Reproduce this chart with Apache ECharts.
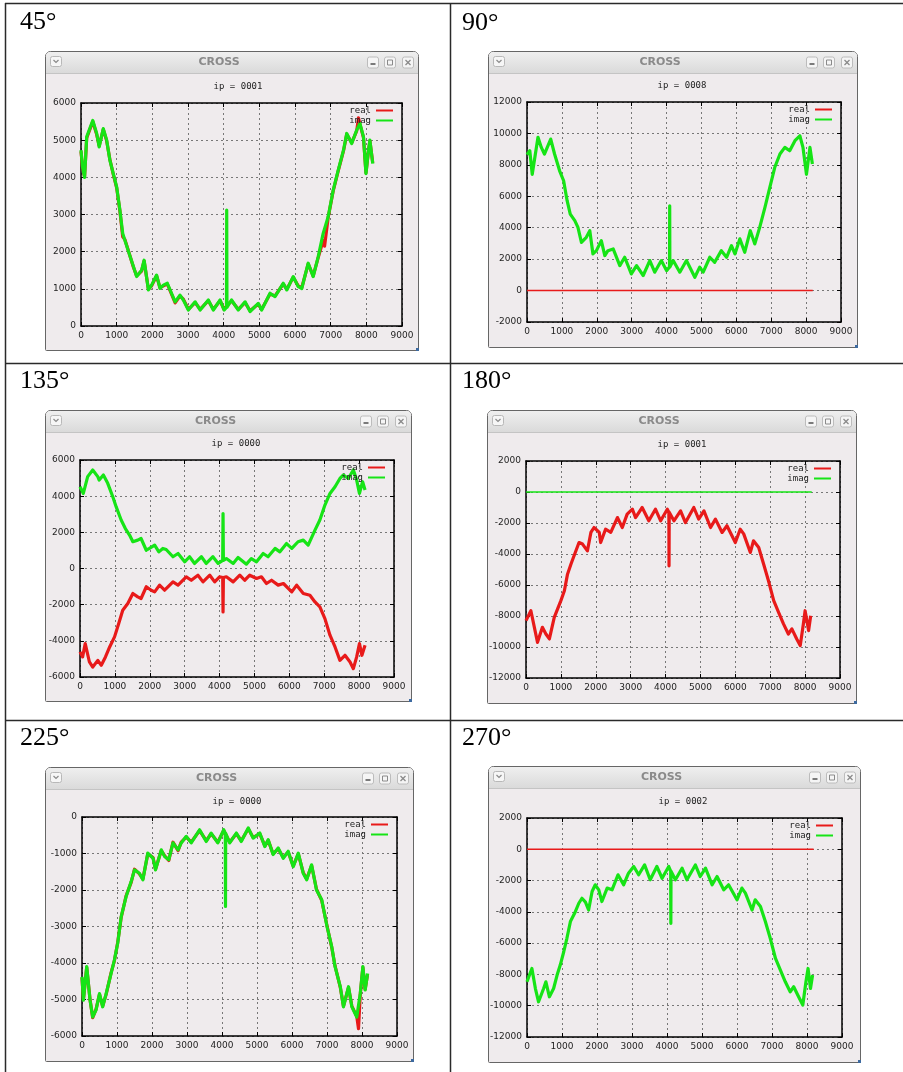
<!DOCTYPE html>
<html>
<head>
<meta charset="utf-8">
<script src="https://cdn.jsdelivr.net/npm/echarts/dist/echarts.min.js"></script>
<style>
  html, body { margin: 0; padding: 0; background: #fff; }
  #chart { width: 903px; height: 1072px; }
</style>
</head>
<body>
<div id="chart"></div>
<script>
// ---- labels and axis ranges ----
const angleLabels = ['45°', '90°', '135°', '180°', '225°', '270°'];
const windowCaption = 'CROSS';
const plotTitles = ['ip = 0001', 'ip = 0008', 'ip = 0000', 'ip = 0001', 'ip = 0000', 'ip = 0002'];
const seriesNames = ['real', 'imag'];
const xRange = { min: 0, max: 9000, interval: 1000 };
const yRanges = [
  { min: 0, max: 6000, interval: 1000 },
  { min: -2000, max: 12000, interval: 2000 },
  { min: -6000, max: 6000, interval: 2000 },
  { min: -12000, max: 2000, interval: 2000 },
  { min: -6000, max: 0, interval: 1000 },
  { min: -12000, max: 2000, interval: 2000 }
];

// ---- cross spectra, [sample, value] ----
const real45 = [[0,4700],[40,4280],[100,4020],[160,5060],[330,5500],[440,5150],[510,4850],[625,5290],[720,4980],[810,4480],[905,4080],[1000,3720],[1090,3100],[1170,2400],[1230,2330],[1350,1960],[1470,1580],[1560,1350],[1700,1480],[1770,1750],[1890,990],[1980,1080],[2120,1350],[2215,1030],[2310,1080],[2420,1130],[2640,620],[2775,810],[2870,720],[3010,450],[3200,630],[3340,450],[3570,680],[3710,450],[3900,680],[4010,450],[4220,680],[4410,450],[4600,630],[4740,410],[4970,590],[5065,450],[5300,860],[5440,810],[5670,1130],[5770,990],[5950,1310],[6090,1080],[6190,1030],[6370,1670],[6510,1350],[6650,1840],[6790,2300],[6830,2150],[6930,2920],[7070,3630],[7210,4170],[7360,4710],[7450,5160],[7590,4930],[7730,5250],[7780,5600],[7820,5430],[7920,5070],[7990,4120],[8060,4710],[8100,4980],[8180,4390]];
const imag45 = [[0,4730],[40,4300],[100,4000],[160,5090],[330,5530],[440,5180],[510,4820],[625,5310],[720,5000],[810,4460],[905,4100],[1000,3740],[1090,3120],[1170,2490],[1230,2310],[1350,1950],[1470,1600],[1560,1330],[1700,1500],[1770,1770],[1890,970],[1980,1100],[2120,1370],[2215,1010],[2310,1100],[2420,1150],[2640,650],[2775,830],[2870,700],[3010,430],[3200,650],[3340,430],[3570,700],[3710,430],[3900,700],[4010,430],[4080,500],[4085,3120],[4092,500],[4220,700],[4410,430],[4600,650],[4740,390],[4970,610],[5065,430],[5300,880],[5440,790],[5670,1150],[5770,970],[5950,1330],[6090,1060],[6190,1010],[6370,1690],[6510,1330],[6650,1860],[6790,2490],[6930,2940],[7070,3650],[7210,4190],[7360,4730],[7450,5180],[7590,4910],[7730,5270],[7820,5450],[7920,5090],[7990,4100],[8060,4730],[8100,5000],[8180,4370]];

const real90 = [[0,0],[8190,0]];
const imag90 = [[0,8650],[80,8900],[150,7400],[315,9750],[410,9110],[500,8690],[680,9640],[790,8690],[935,7620],[1050,6990],[1150,5720],[1240,4870],[1370,4450],[1460,4020],[1560,3070],[1700,3390],[1800,3810],[1890,2330],[1990,2540],[2130,3180],[2230,2230],[2320,2540],[2470,2650],[2660,1590],[2800,2120],[2990,1060],[3140,1590],[3330,960],[3520,1910],[3660,1170],[3850,1910],[4000,1270],[4085,1500],[4090,5390],[4095,1500],[4190,1910],[4380,1170],[4570,1910],[4810,850],[4950,1490],[5050,1170],[5240,2120],[5380,1800],[5570,2540],[5720,2120],[5860,2860],[5960,2330],[6100,3290],[6240,2440],[6400,3810],[6530,2970],[6670,4020],[6820,5290],[6960,6560],[7100,7830],[7250,8690],[7390,9110],[7530,8900],[7680,9540],[7820,9850],[7910,9110],[8010,7400],[8110,9110],[8180,8050]];

const real135 = [[0,-4610],[75,-4890],[150,-4150],[270,-5170],[365,-5450],[510,-5080],[610,-5350],[730,-4890],[850,-4340],[990,-3780],[1110,-3040],[1225,-2310],[1370,-1940],[1515,-1380],[1655,-1570],[1750,-1660],[1900,-1010],[2040,-1200],[2140,-1290],[2280,-920],[2425,-1200],[2665,-740],[2810,-920],[3045,-460],[3190,-650],[3380,-370],[3525,-740],[3720,-370],[3860,-740],[4000,-460],[4090,-500],[4100,-2400],[4110,-500],[4195,-460],[4390,-740],[4580,-370],[4720,-650],[4865,-370],[5060,-550],[5200,-460],[5345,-830],[5490,-650],[5680,-920],[5830,-830],[6070,-1290],[6210,-920],[6400,-1380],[6590,-1480],[6735,-1850],[6875,-2120],[7020,-2770],[7165,-3690],[7310,-4340],[7450,-5080],[7595,-4800],[7740,-5170],[7835,-5540],[7930,-4890],[8010,-4150],[8080,-4800],[8170,-4240]];
const imag135 = [[0,4520],[95,4150],[220,5080],[365,5450],[510,5080],[550,4890],[670,5170],[795,4710],[940,3970],[1035,3420],[1180,2680],[1300,2210],[1420,1850],[1515,1480],[1655,1570],[1750,1660],[1900,1010],[1990,1110],[2140,1290],[2260,920],[2375,1110],[2470,1050],[2665,650],[2810,830],[3000,370],[3140,650],[3285,280],[3480,650],[3620,280],[3810,650],[3960,280],[4090,450],[4100,3040],[4110,450],[4195,550],[4390,280],[4530,610],[4770,240],[4910,550],[5060,370],[5250,830],[5390,650],[5590,1110],[5730,920],[5920,1380],[6070,1110],[6250,1480],[6400,1570],[6540,1290],[6735,2120],[6875,2680],[7020,3510],[7165,4150],[7310,4520],[7450,4980],[7550,5170],[7690,4980],[7835,5450],[7930,4890],[8010,4150],[8100,4800],[8170,4340]];

const real180 = [[0,-8300],[140,-7660],[330,-9700],[470,-8730],[570,-9160],[670,-9480],[810,-8090],[1000,-7010],[1100,-6370],[1190,-5300],[1290,-4650],[1380,-4100],[1520,-3260],[1620,-3360],[1760,-3800],[1860,-2610],[1950,-2290],[2100,-2610],[2140,-3260],[2280,-2400],[2430,-2600],[2620,-1650],[2760,-2290],[2900,-1430],[3050,-1110],[3140,-1650],[3330,-1000],[3520,-1860],[3710,-1110],[3860,-1860],[4050,-1110],[4095,-1300],[4100,-4760],[4105,-1300],[4240,-1860],[4430,-1220],[4570,-1970],[4810,-1000],[4950,-1750],[5100,-1220],[5290,-2290],[5430,-1750],[5620,-2610],[5760,-2180],[6000,-3260],[6140,-2400],[6240,-2700],[6430,-3900],[6520,-3150],[6670,-3580],[6810,-4650],[6950,-5730],[7100,-7010],[7240,-7760],[7380,-8510],[7520,-9160],[7620,-8830],[7760,-9480],[7860,-9910],[7950,-8510],[8000,-7660],[8100,-8940],[8160,-7980]];
const imag180 = [[0,0],[8190,0]];

const real225 = [[0,-4400],[40,-5000],[135,-4120],[230,-5000],[305,-5500],[400,-5270],[500,-4860],[590,-5180],[690,-4860],[830,-4270],[925,-3940],[1020,-3440],[1120,-2750],[1260,-2160],[1405,-1790],[1500,-1430],[1640,-1560],[1740,-1700],[1880,-1010],[2030,-1110],[2100,-1430],[2265,-920],[2360,-1060],[2480,-1190],[2600,-690],[2745,-920],[2835,-690],[2980,-550],[3120,-690],[3360,-370],[3550,-650],[3690,-460],[3880,-690],[4050,-370],[4220,-690],[4410,-460],[4550,-650],[4750,-320],[4890,-560],[5080,-460],[5225,-790],[5320,-640],[5460,-1010],[5605,-870],[5750,-1110],[5890,-960],[6035,-1340],[6180,-1010],[6320,-1520],[6420,-1700],[6560,-1330],[6700,-1980],[6850,-2290],[7000,-2980],[7135,-3570],[7230,-4080],[7380,-4670],[7470,-5180],[7615,-4670],[7710,-5180],[7850,-5460],[7900,-5800],[7950,-4860],[8025,-4120],[8090,-4720],[8160,-4310]];
const imag225 = [[0,-4380],[40,-5020],[135,-4100],[230,-5020],[305,-5480],[400,-5290],[500,-4840],[590,-5200],[690,-4840],[830,-4290],[925,-3920],[1020,-3460],[1120,-2730],[1260,-2180],[1405,-1770],[1500,-1450],[1640,-1540],[1740,-1720],[1880,-990],[2030,-1130],[2100,-1450],[2265,-900],[2360,-1080],[2480,-1170],[2600,-710],[2745,-900],[2835,-710],[2980,-530],[3120,-710],[3360,-350],[3550,-670],[3690,-440],[3880,-710],[4050,-350],[4095,-450],[4100,-2450],[4105,-450],[4220,-710],[4410,-440],[4550,-670],[4750,-300],[4890,-580],[5080,-440],[5225,-810],[5320,-620],[5460,-1030],[5605,-850],[5750,-1130],[5890,-940],[6035,-1360],[6180,-990],[6320,-1540],[6420,-1720],[6560,-1310],[6700,-2000],[6850,-2270],[7000,-3000],[7135,-3550],[7230,-4100],[7380,-4650],[7470,-5200],[7615,-4650],[7710,-5200],[7850,-5480],[7950,-4840],[8025,-4100],[8090,-4740],[8160,-4290]];

const real270 = [[0,0],[8190,0]];
const imag270 = [[0,-8470],[70,-8040],[140,-7620],[240,-8900],[330,-9750],[475,-8900],[540,-8470],[640,-9430],[760,-8900],[860,-8040],[950,-7400],[1050,-6550],[1140,-5690],[1240,-4620],[1360,-4090],[1480,-3450],[1570,-3130],[1670,-3380],[1760,-3880],[1860,-2700],[1950,-2270],[2050,-2590],[2140,-3340],[2290,-2480],[2430,-2590],[2600,-1630],[2760,-2270],[2900,-1530],[3050,-1100],[3190,-1630],[3360,-1000],[3520,-1950],[3710,-1100],[3860,-1850],[4050,-1100],[4105,-1400],[4110,-4730],[4115,-1400],[4240,-1950],[4430,-1210],[4570,-1950],[4810,-1000],[4950,-1740],[5100,-1210],[5290,-2270],[5430,-1740],[5620,-2590],[5760,-2270],[6000,-3230],[6140,-2480],[6240,-2800],[6430,-3880],[6520,-3230],[6670,-3660],[6810,-4620],[6950,-5690],[7100,-6980],[7240,-7720],[7380,-8470],[7520,-9110],[7620,-8790],[7760,-9430],[7880,-9960],[7970,-8470],[8030,-7620],[8100,-8900],[8160,-8040]];

const panelData = [
  { real: real45,  imag: imag45 },
  { real: real90,  imag: imag90 },
  { real: real135, imag: imag135 },
  { real: real180, imag: imag180 },
  { real: real225, imag: imag225 },
  { real: real270, imag: imag270 }
];

// ---- page layout (pixels) ----
const W = 903, H = 1072;
const frames = [
  { label: [20, 22.5],  win: [45, 51, 374, 300],  plot: [81, 103, 321, 223],  title: [238, 87] },
  { label: [462, 23.5], win: [488, 51, 370, 297], plot: [527, 102, 314, 220], title: [682, 86] },
  { label: [20, 381],   win: [45, 410, 367, 292], plot: [80, 460, 314, 217],  title: [236, 444] },
  { label: [462, 381],  win: [487, 410, 370, 294], plot: [526, 461, 314, 217], title: [682, 445] },
  { label: [20, 738],   win: [45, 767, 369, 295], plot: [82, 817, 315, 219],  title: [237, 802] },
  { label: [462, 738],  win: [488, 766, 373, 297], plot: [527, 818, 315, 219], title: [683, 802] }
];

const RED = '#e81a1a';
const GREEN = '#16e416';
const TICK_FONT = 'DejaVu Sans';
const MONO_FONT = 'DejaVu Sans Mono';

function isFlat(arr) {
  return arr.every(p => p[1] === 0);
}

function txt(x, y, text, font, fill, align, z) {
  return {
    type: 'text', z: z, silent: true,
    style: { text: text, x: x, y: y, font: font, fill: fill,
             align: align, textAlign: align, verticalAlign: 'middle', textVerticalAlign: 'middle' }
  };
}
function line(x1, y1, x2, y2, stroke, w, z) {
  return { type: 'line', z: z, silent: true,
           shape: { x1: x1, y1: y1, x2: x2, y2: y2 },
           style: { stroke: stroke, lineWidth: w } };
}

const option = {
  animation: false,
  backgroundColor: '#ffffff',
  grid: [], xAxis: [], yAxis: [], series: [], legend: [],
  graphic: { elements: [] }
};
const g = option.graphic.elements;

// table rules
const ruleColor = '#2a2a2a';
g.push(line(5.5, 3, 5.5, H, ruleColor, 1.5, 1));
g.push(line(450.5, 3, 450.5, H, ruleColor, 1.5, 1));
g.push(line(5, 3.5, W, 3.5, ruleColor, 1.5, 1));
g.push(line(5, 363.5, W, 363.5, ruleColor, 1.5, 1));
g.push(line(5, 720.5, W, 720.5, ruleColor, 1.5, 1));

frames.forEach((f, i) => {
  const [wx, wy, ww, wh] = f.win;
  const [gl, gt, gw, gh] = f.plot;

  // cell caption
  g.push(txt(f.label[0], f.label[1], angleLabels[i], '26px "Liberation Serif"', '#000', 'left', 1));

  // window body + title bar
  g.push({ type: 'rect', z: -20, silent: true,
    shape: { x: wx + 0.5, y: wy + 0.5, width: ww - 1, height: wh - 1, r: [5, 5, 1, 1] },
    style: { fill: '#efebed', stroke: '#666', lineWidth: 1 } });
  g.push({ type: 'rect', z: -19, silent: true,
    shape: { x: wx + 1, y: wy + 1, width: ww - 2, height: 21, r: [4, 4, 0, 0] },
    style: { fill: { type: 'linear', x: 0, y: 0, x2: 0, y2: 1,
      colorStops: [{ offset: 0, color: '#efefef' }, { offset: 1, color: '#dadada' }] } } });
  g.push(line(wx + 1, wy + 22.5, wx + ww - 1, wy + 22.5, '#c4c4c4', 1, -18));
  g.push(txt(wx + ww / 2 - 13, wy + 11.5, windowCaption, 'bold 11px "DejaVu Sans"', '#8a8a8a', 'center', -17));

  // window menu button
  g.push({ type: 'rect', z: -17, silent: true,
    shape: { x: wx + 5.5, y: wy + 5.5, width: 11, height: 10, r: 2 },
    style: { fill: '#f6f6f6', stroke: '#b8b8b8', lineWidth: 1 } });
  g.push({ type: 'polyline', z: -16, silent: true,
    shape: { points: [[wx + 8.5, wy + 9], [wx + 11, wy + 11.5], [wx + 13.5, wy + 9]] },
    style: { stroke: '#8a8a8a', lineWidth: 1.2, fill: null } });

  // minimise / maximise / close buttons
  [-46, -29, -11].forEach((dx, k) => {
    const cx = wx + ww + dx, cy = wy + 11.5;
    g.push({ type: 'rect', z: -17, silent: true,
      shape: { x: cx - 5.5, y: cy - 5.5, width: 11, height: 11, r: 2 },
      style: { fill: '#f5f5f5', stroke: '#bcbcbc', lineWidth: 1 } });
    if (k === 0) g.push(line(cx - 2.5, cy + 1.5, cx + 2.5, cy + 1.5, '#7a7a7a', 2, -16));
    if (k === 1) g.push({ type: 'rect', z: -16, silent: true,
      shape: { x: cx - 2.5, y: cy - 2.5, width: 5, height: 5 },
      style: { fill: null, stroke: '#8a8a8a', lineWidth: 1 } });
    if (k === 2) {
      g.push(line(cx - 2.5, cy - 2.5, cx + 2.5, cy + 2.5, '#8a8a8a', 1.3, -16));
      g.push(line(cx - 2.5, cy + 2.5, cx + 2.5, cy - 2.5, '#8a8a8a', 1.3, -16));
    }
  });
  g.push({ type: 'rect', z: -15, silent: true,
    shape: { x: wx + ww - 3, y: wy + wh - 3, width: 3, height: 3 },
    style: { fill: '#3d6aa0' } });

  // plot title
  g.push(txt(f.title[0], f.title[1], plotTitles[i], '9px "' + MONO_FONT + '"', '#222', 'center', 5));

  // plot area
  option.grid.push({ left: gl, top: gt, width: gw, height: gh, show: false });
  const yr = yRanges[i];
  const tickStyle = { show: true, inside: true, length: 4, lineStyle: { color: '#000', width: 1 } };
  const frameLine = { show: true, onZero: false, lineStyle: { color: '#000', width: 1.5 } };
  const gridLine = { show: true, lineStyle: { type: [2, 3], color: '#777', width: 1 } };
  const labelStyle = { show: true, margin: 5, fontSize: 9, fontFamily: TICK_FONT, color: '#1e1e1e',
                       formatter: v => String(v) };

  option.xAxis.push({ type: 'value', gridIndex: i, position: 'bottom',
    min: xRange.min, max: xRange.max, interval: xRange.interval,
    axisLine: frameLine, axisTick: tickStyle, axisLabel: labelStyle, splitLine: gridLine });
  option.xAxis.push({ type: 'value', gridIndex: i, position: 'top',
    min: xRange.min, max: xRange.max, interval: xRange.interval,
    axisLine: frameLine, axisTick: tickStyle, axisLabel: { show: false }, splitLine: { show: false } });
  option.yAxis.push({ type: 'value', gridIndex: i, position: 'left',
    min: yr.min, max: yr.max, interval: yr.interval,
    axisLine: frameLine, axisTick: tickStyle, axisLabel: labelStyle, splitLine: gridLine });
  option.yAxis.push({ type: 'value', gridIndex: i, position: 'right',
    min: yr.min, max: yr.max, interval: yr.interval,
    axisLine: frameLine, axisTick: tickStyle, axisLabel: { show: false }, splitLine: { show: false } });

  const d = panelData[i];
  [['real', d.real, RED], ['imag', d.imag, GREEN]].forEach(([name, arr, color]) => {
    option.series.push({
      type: 'line', name: name, data: arr,
      xAxisIndex: 2 * i, yAxisIndex: 2 * i,
      showSymbol: false, symbol: 'none', silent: true, clip: true,
      color: color, itemStyle: { color: color },
      lineStyle: { color: color, width: isFlat(arr) ? 1.6 : 3.2, join: 'round' },
      z: 3
    });
  });

  option.legend.push({
    orient: 'vertical', align: 'right', icon: 'rect',
    right: W - (gl + gw) + 9, top: gt + 3,
    itemWidth: 17, itemHeight: 2, itemGap: 1, padding: 0,
    selectedMode: false, data: seriesNames,
    textStyle: { fontFamily: MONO_FONT, fontSize: 9, color: '#222' }
  });
});

const chart = echarts.init(document.getElementById('chart'), null, { renderer: 'canvas', width: W, height: H });
chart.setOption(option);
</script>
</body>
</html>
